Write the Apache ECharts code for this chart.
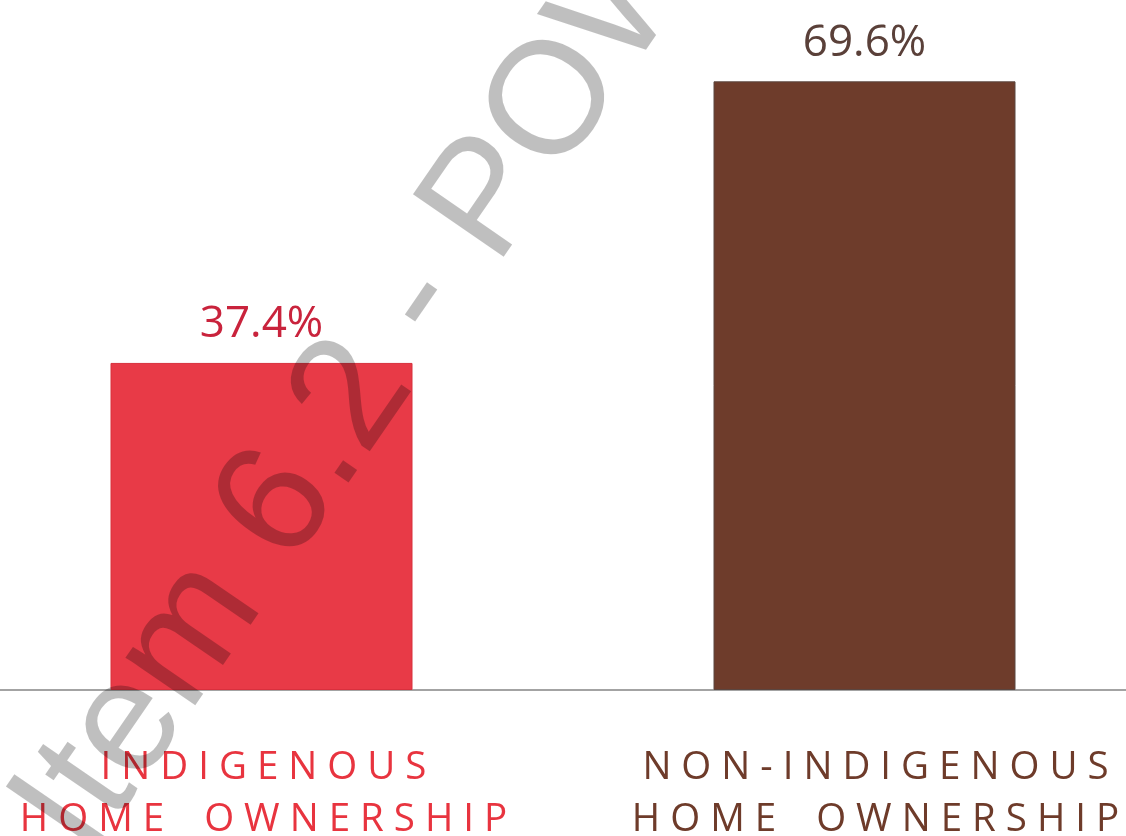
<!DOCTYPE html>
<html>
<head>
<meta charset="utf-8">
<style>
html,body{margin:0;padding:0;background:#fff;}
#chart{width:1126px;height:836px;}
</style>
<script src="https://cdn.jsdelivr.net/npm/echarts@6/dist/echarts.min.js"></script>
</head>
<body>
<div id="chart"></div>
<script>
var categories = ['I N D I G E N O U S\nH O M E    O W N E R S H I P', 'N O N - I N D I G E N O U S\nH O M E    O W N E R S H I P'];
var values = [37.4, 69.6];
var barColors = ['#e83a47', '#6e3c2b'];
var barBorders = ['#d8303d', '#5b4640'];
var labelColors = ['#e8343f', '#6e3b2a'];
var valueLabelColors = ['#c9233c', '#5a4039'];
var watermarkText = 'Item 6.2 - POW';

var labelFont = {fontFamily: 'Open Sans', fontSize: 38.5, lineHeight: 52};

var chart = echarts.init(document.getElementById('chart'), null, {renderer: 'canvas'});
chart.setOption({
  animation: false,
  backgroundColor: '#ffffff',
  grid: {left: -40, width: 1206, top: 0, bottom: 146, containLabel: false, outerBoundsMode: 'none'},
  xAxis: {
    type: 'category',
    data: categories,
    axisLine: {show: true, lineStyle: {color: '#a3a3a3', width: 2}},
    axisTick: {show: false},
    axisLabel: {
      interval: 0,
      margin: 52,
      fontFamily: 'Open Sans',
      fontSize: 38.5,
      lineHeight: 52,
      formatter: function (v, i) {
        return v.split('\n').map(function (l) { return '{c' + i + '|' + l + '}'; }).join('\n');
      },
      rich: {
        c0: Object.assign({color: labelColors[0], padding: [0, 0, 0, 4]}, labelFont),
        c1: Object.assign({color: labelColors[1], padding: [0, 0, 0, 22]}, labelFont)
      }
    }
  },
  yAxis: {
    type: 'value', min: 0, max: 78.9,
    show: false,
    splitLine: {show: false}
  },
  series: [{
    type: 'bar',
    barWidth: 302,
    data: values.map(function (v, i) {
      return {
        value: v,
        itemStyle: {color: barColors[i], borderColor: barBorders[i], borderWidth: 1},
        label: {color: valueLabelColors[i]}
      };
    }),
    label: {
      show: true,
      position: 'top',
      distance: 16,
      fontFamily: 'Open Sans',
      fontSize: 44,
      formatter: function (p) { return p.value.toFixed(1) + '%'; }
    }
  }],
  graphic: [{
    type: 'text',
    x: 52, y: 836,
    rotation: 55.5 * Math.PI / 180,
    z: 100,
    style: {
      text: watermarkText,
      fontFamily: 'Liberation Sans',
      fontSize: 160,
      fill: 'rgba(0,0,0,0.25)',
      align: 'left',
      verticalAlign: 'middle'
    }
  }]
});
</script>
</body>
</html>
